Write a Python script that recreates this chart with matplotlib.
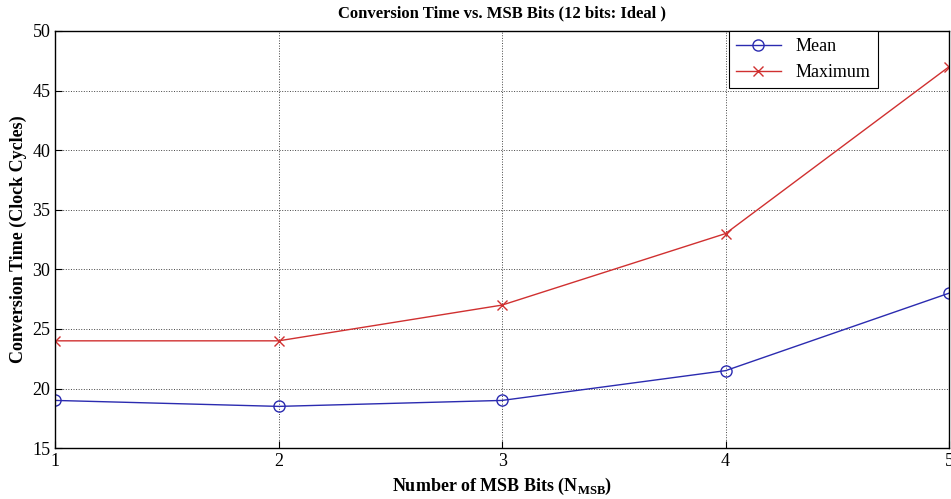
import matplotlib
matplotlib.use("Agg")
import matplotlib.pyplot as plt

n_msb = [1, 2, 3, 4, 5]
mean_cycles = [19, 18.5, 19, 21.5, 28]
max_cycles = [24, 24, 27, 33, 47]
yticks = [15, 20, 25, 30, 35, 40, 45, 50]

plt.rcParams['font.family'] = ['Liberation Serif', 'DejaVu Serif']
plt.rcParams['mathtext.fontset'] = 'custom'
plt.rcParams['mathtext.rm'] = 'Liberation Serif'
plt.rcParams['mathtext.bf'] = 'Liberation Serif:bold'

fig = plt.figure(figsize=(9.51, 4.99), dpi=100)
ax = fig.add_axes([0.058, 0.102, 0.940, 0.836])

ax.plot(n_msb, mean_cycles, color='#2b2bb0', marker='o', markersize=8,
        markerfacecolor='none', linewidth=1.0, label='Mean')
ax.plot(n_msb, max_cycles, color='#d03030', marker='x', markersize=7,
        linewidth=1.0, label='Maximum')

ax.set_xlim(1, 5)
ax.set_ylim(15, 50)
ax.set_xticks(n_msb)
ax.set_yticks(yticks)
ax.grid(True, linestyle=':', color='#444444', linewidth=0.7)
ax.tick_params(direction='in', labelsize=13, length=5)
for s in ax.spines.values():
    s.set_linewidth(1.0)

ax.set_title('Conversion Time vs. MSB Bits (12 bits: Ideal )', fontsize=12,
             fontweight='bold', pad=10)
ax.set_xlabel(r'Number of MSB Bits (N$_{\mathbf{MSB}}$)', fontsize=13,
              fontweight='bold', labelpad=4)
ax.set_ylabel('Conversion Time (Clock Cycles)', fontsize=13, fontweight='bold')

leg = ax.legend(loc='upper right', bbox_to_anchor=(0.92, 1.0), fontsize=13,
                fancybox=False, edgecolor='black', framealpha=1,
                borderaxespad=0, handlelength=2.5)
leg.get_frame().set_linewidth(0.8)

fig.savefig('out.png', dpi=100)
